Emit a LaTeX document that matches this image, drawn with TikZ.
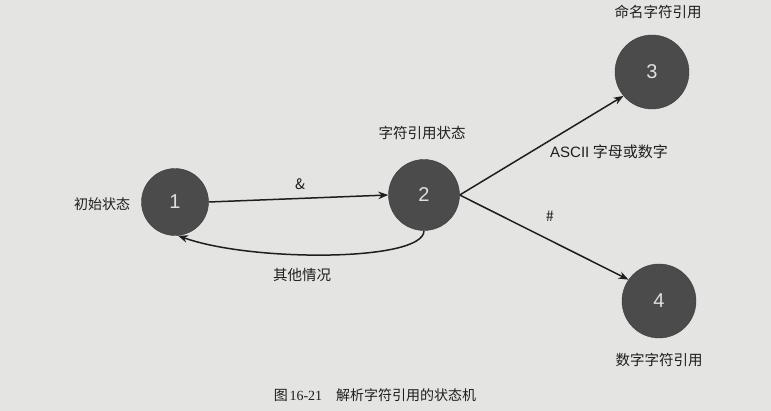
\documentclass[tikz,border=0pt]{standalone}
\usepackage{fontspec}
\setmainfont{Liberation Sans}
\newfontfamily\cjk{Noto Sans CJK SC}
\newfontfamily\capserif{Liberation Serif}
\usetikzlibrary{arrows.meta}
\definecolor{paper}{HTML}{E4E4E2}
\definecolor{nodegray}{HTML}{4B4B4B}
\definecolor{numcol}{HTML}{E0E0E0}
\definecolor{inkc}{HTML}{1E1E1E}
\begin{document}
\begin{tikzpicture}[x=1pt,y=-1pt,
  statenode/.style={circle,fill=nodegray,draw=nodegray!80!black,line width=0.4pt,minimum size=#1,inner sep=0pt,text=numcol,font=\fontsize{20}{20}\selectfont},
  lbl/.style={text=inkc,font=\cjk\fontsize{14.5}{14.5}\selectfont,inner sep=0pt},
  edge/.style={draw=inkc,line width=1.5pt,-{Stealth[length=10pt,width=7.5pt]}}]
\fill[paper] (0,0) rectangle (771,411);
\useasboundingbox (0,0) rectangle (771,411);
\node[statenode=67pt] (n1) at (175,202) {1};
\node[statenode=71pt] (n2) at (424,195) {2};
\node[statenode=74pt] (n3) at (652,72) {3};
\node[statenode=74pt] (n4) at (659,301) {4};
\node[lbl,font=\cjk\fontsize{14}{14}\selectfont] (l1) at (102,204) {初始状态};
\node[lbl] (l2) at (422,133) {字符引用状态};
\node[lbl] (l3) at (658,12) {命名字符引用};
\node[lbl] (l4) at (659,360) {数字字符引用};
\node[lbl] (e12) at (300,184) {\&};
\node[lbl] (e21) at (302,275) {其他情况};
\node[lbl,font=\cjk\fontsize{15}{15}\selectfont] (e23) at (609,152) {{\fontspec{Liberation Sans}ASCII} 字母或数字};
\node[lbl] (e24) at (550,216) {\#};
\draw[edge] (n1.east) -- (n2.west);
\draw[edge] (n2.south) .. controls (424,262) and (250,262) .. (n1.-85);
\draw[edge] (n2.east) -- (n3.-140);
\draw[edge] (n2.east) -- (n4.145);
\node[text=inkc,inner sep=0pt] (cap) at (375,395) {{\cjk\fontsize{14}{14}\selectfont 图}\,{\capserif\fontsize{14}{14}\selectfont 16-21}\hspace{14pt}{\cjk\fontsize{14}{14}\selectfont 解析字符引用的状态机}};
\end{tikzpicture}
\end{document}
